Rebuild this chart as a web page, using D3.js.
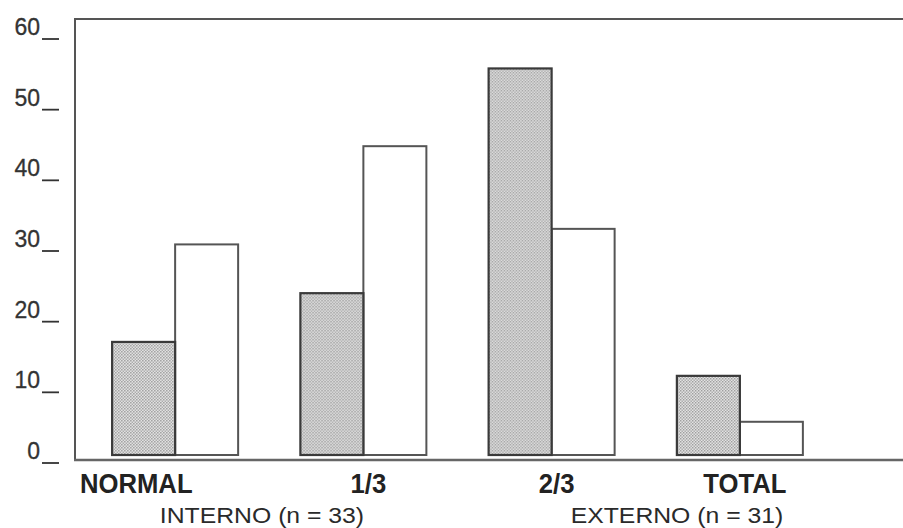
<!DOCTYPE html>
<html>
<head>
<meta charset="utf-8">
<script src="https://cdn.jsdelivr.net/npm/d3@7"></script>
<style>
  html, body { margin: 0; padding: 0; background: #fff; }
  svg { display: block; font-family: "Liberation Sans", Arial, Helvetica, sans-serif; }
</style>
</head>
<body>
<svg id="chart" width="903" height="528"></svg>
<script>
// ---- data ----
const categories = ["NORMAL", "1/3", "2/3", "TOTAL"];
const seriesNames = ["Interno", "Externo"];
const shadedValues = [16.0, 22.9, 54.7, 11.2];
const whiteValues = [29.8, 43.7, 32.0, 4.7];
const yTicks = [0, 10, 20, 30, 40, 50, 60];
const groupLabels = ["INTERNO (n = 33)", "EXTERNO (n = 31)"];

const svg = d3.select("#chart");

// pattern for shaded bars
const defs = svg.append("defs");
const pat = defs.append("pattern")
  .attr("id", "dots").attr("patternUnits", "userSpaceOnUse")
  .attr("width", 3).attr("height", 3);
pat.append("rect").attr("width", 3).attr("height", 3).attr("fill", "#e8e8e8");
pat.append("rect").attr("x", 0).attr("y", 0).attr("width", 1.5).attr("height", 1.5).attr("fill", "#9a9a9a");
pat.append("rect").attr("x", 1.5).attr("y", 1.5).attr("width", 1.5).attr("height", 1.5).attr("fill", "#a8a8a8");

// scales
const y = d3.scaleLinear().domain([0, 60]).range([455, 31]);
const x = d3.scaleBand().domain(categories).range([81, 834]).padding(0);
const barW = 63;
const sub = d3.scaleBand().domain(seriesNames).range([-barW, barW]);

// frame
const frame = svg.append("g").attr("fill", "none");
frame.append("line").attr("x1", 75).attr("x2", 75).attr("y1", 19).attr("y2", 461)
  .attr("stroke", "#555").attr("stroke-width", 2);
frame.append("line").attr("x1", 74).attr("x2", 903).attr("y1", 19).attr("y2", 19)
  .attr("stroke", "#555").attr("stroke-width", 2);
frame.append("line").attr("x1", 74).attr("x2", 903).attr("y1", y(0) + 5).attr("y2", y(0) + 5)
  .attr("stroke", "#666").attr("stroke-width", 2.5);

// y ticks
const tg = svg.append("g");
yTicks.forEach(v => {
  tg.append("text").attr("x", 40).attr("y", y(v) + 4)
    .attr("text-anchor", "end").attr("font-size", 23).attr("fill", "#333")
    .attr("stroke", "#333").attr("stroke-width", 0.3)
    .text(v);
  tg.append("line").attr("x1", 42).attr("x2", 59).attr("y1", y(v) + 8).attr("y2", y(v) + 8)
    .attr("stroke", "#333").attr("stroke-width", 1.8);
});

// bars
const data = categories.map((c, i) => ({ c, vals: [shadedValues[i], whiteValues[i]] }));
const groups = svg.append("g").selectAll("g").data(data).join("g")
  .attr("transform", d => `translate(${x(d.c) + x.bandwidth() / 2},0)`);
groups.selectAll("rect").data(d => d.vals.map((v, j) => ({ s: seriesNames[j], v, j })))
  .join("rect")
  .attr("x", d => sub(d.s))
  .attr("width", sub.bandwidth())
  .attr("y", d => y(d.v))
  .attr("height", d => y(0) - y(d.v))
  .attr("fill", d => d.j === 0 ? "url(#dots)" : "#fff")
  .attr("stroke", d => d.j === 0 ? "#3a3a3a" : "#555")
  .attr("stroke-width", d => d.j === 0 ? 2.2 : 2);
groups.selectAll("rect").filter(d => d.j === 0).raise();

// category labels (first label starts at the y-axis, others centred on group)
const lg = svg.append("g");
categories.forEach((c, i) => {
  const t = lg.append("text").attr("y", 493).attr("font-size", 27).attr("font-weight", "bold")
    .attr("fill", "#222").text(c);
  const w = t.node().getComputedTextLength() * 0.95;
  t.attr("textLength", w).attr("lengthAdjust", "spacingAndGlyphs");
  const left = i === 0 ? 80 : x(c) + x.bandwidth() / 2 + 5 - w / 2;
  t.attr("x", left);
});

// group labels
const glCenters = [262, 677];
groupLabels.forEach((g, i) => {
  const t = svg.append("text").attr("y", 523).attr("font-size", 22.5).attr("fill", "#2a2a2a").text(g);
  const w = t.node().getComputedTextLength() * 1.1;
  t.attr("textLength", w).attr("lengthAdjust", "spacingAndGlyphs").attr("x", glCenters[i] - w / 2);
});
</script>
</body>
</html>
